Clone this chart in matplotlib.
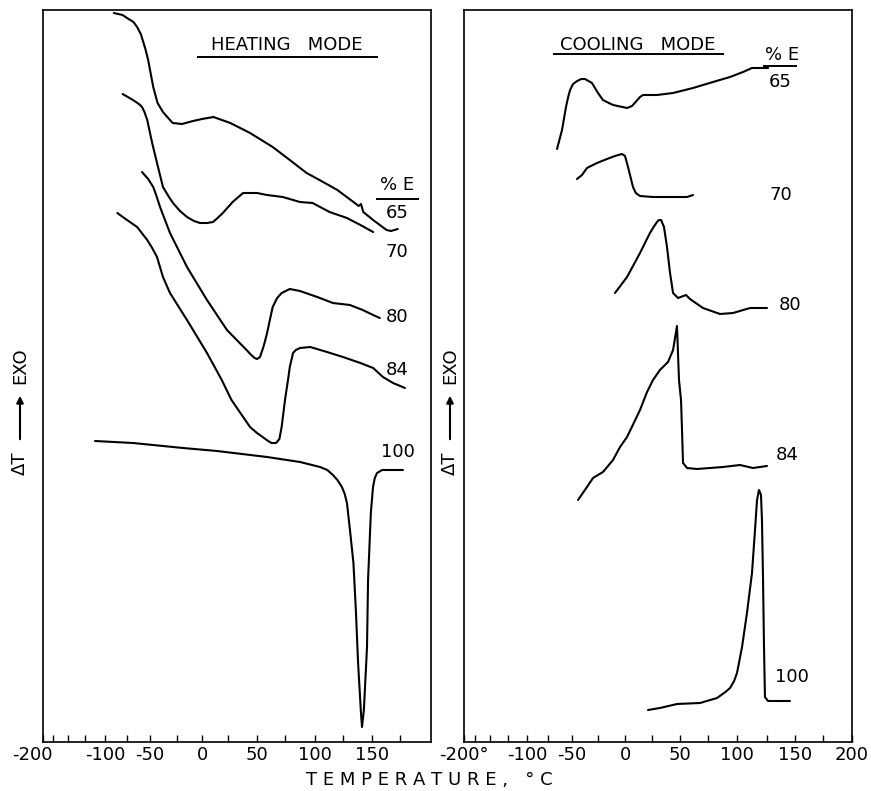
import numpy as np
import matplotlib
matplotlib.use("Agg")
import matplotlib.pyplot as plt
from matplotlib.transforms import ScaledTranslation

# ---- hand-drawn temperature scales: knot temperatures and where they sit on each frame
KNOT_T = [-200, -175, -150, -125, -100, -75, -50, -25, 0, 25, 50, 75, 100, 125, 150, 175, 200]
KNOT_LEFT = [43, 53, 68, 85, 105, 127, 150, 177, 202, 228, 257, 285, 315, 343, 372, 400, 431]
KNOT_RIGHT = [464, 475, 490, 508, 527, 548, 572, 598, 625, 652, 680, 708, 737, 767, 795, 823, 852]

# ---- HEATING MODE curves (temperature, deltaT arbitrary units)
heat_65_T = [-90, -80, -75, -68, -64, -60, -58, -55, -52, -47, -43, -38, -34, -29, -20, -9, 0, 11, 27, 44, 64, 79, 93, 104, 120, 134, 138.5, 140.5, 142.5, 151, 163, 167, 173]
heat_65_y = [729, 727, 724, 720, 715, 708, 702, 693, 682, 655, 639, 630, 625, 619, 618, 621, 623, 625, 619, 609, 595, 582, 569, 562, 552, 540, 536, 538, 530, 522, 512, 511, 513]

heat_70_T = [-80, -68.5, -62, -58.7, -56, -53, -48, -43.5, -38, -33, -28.7, -22, -15, -8, -2, 5, 10.6, 15, 20, 29, 38, 50, 59, 73, 87.5, 98, 113, 128.4, 140, 151]
heat_70_y = [648, 642, 638, 635, 630, 622, 599, 579, 555, 546, 539, 531, 525, 521, 519, 519, 520, 524, 529, 540, 549, 549, 547, 545, 540, 539, 530, 524, 517, 510]

heat_80_T = [-58.7, -52, -47, -44, -40.7, -31.5, -15, 4.8, 24, 41, 45, 48, 50, 52.7, 56, 59, 64, 68, 72, 79, 87.5, 102, 116, 131, 142, 151, 157]
heat_80_y = [570, 563, 555, 546, 535, 509, 475, 442, 412, 392, 387, 384, 383, 385, 396, 409, 435, 444, 449, 453, 451, 445, 439, 437, 432, 427, 424]

heat_84_T = [-86, -75, -64, -53, -48, -43.5, -38, -31.5, -15, 4.8, 19, 28, 44, 50, 55, 60, 63, 67, 70, 72, 75, 77.5, 79, 81.7, 84, 87.5, 96, 110.7, 125, 140, 151, 159.8, 168.8, 179]
heat_84_y = [529, 522, 515, 502, 494, 485, 465, 449, 422, 389, 362, 342, 315, 309, 305, 301, 299, 299, 303, 315, 342, 362, 375, 389, 392, 394, 395, 390, 385, 379, 374, 365, 359, 354]

heat_100_T = [-112.5, -68.5, -19, 14.4, 59, 87.5, 104.5, 111, 116, 120, 124, 126.5, 128.4, 131, 134, 136.2, 138, 140.5, 141.4, 143, 145.7, 146.6, 149, 150.9, 152.5, 154.5, 159, 177.4]
heat_100_y = [301, 299, 294, 291, 285, 280, 275, 272, 267, 262, 255, 248, 239, 212, 179, 129, 79, 29, 15, 32, 95, 162, 229, 255, 264, 269, 272, 272]

# ---- COOLING MODE curves
cool_65_T = [-65.6, -60.4, -56.25, -54, -52, -49, -45, -41, -37.5, -30.8, -25, -20.4, -15, -11, 1.9, 6.5, 13.9, 16.7, 29.5, 43.8, 61.6, 79.3, 94, 105, 112.5, 119, 126]
cool_65_y = [593, 612, 635, 645, 652, 658, 661, 663, 663, 659, 649, 642, 639, 637, 634, 636, 645, 647, 647, 649, 654, 660, 665, 670, 674, 674, 674]

cool_70_T = [-45.2, -40.4, -35.6, -26, -16.7, -9.3, -2.8, 0, 2.8, 7.4, 10, 13.9, 25.9, 43.8, 56.3, 61.6]
cool_70_y = [563, 567, 574, 579, 583, 586, 588, 586, 575, 555, 549, 546, 545, 545, 545, 547]

cool_80_T = [-9.3, 1.9, 13.9, 23.1, 27, 29.5, 31, 33.1, 35.7, 38.4, 41.1, 43.8, 48.2, 55.4, 58.9, 70.5, 85.3, 96.6, 110.8, 125]
cool_80_y = [449, 465, 489, 509, 516, 520, 522, 522, 515, 495, 469, 449, 444, 447, 443, 434, 428, 429, 434, 434]

cool_84_T = [-44.2, -35.6, -29.8, -20.4, -11.1, -4.6, 1.9, 13.9, 20.4, 25.9, 32.1, 39.3, 43.8, 47.3, 49.1, 50.9, 51.8, 52.7, 56.3, 65.2, 87.9, 102.5, 113.3, 125]
cool_84_y = [242, 255, 264, 270, 282, 295, 305, 332, 350, 362, 372, 380, 392, 416, 362, 342, 312, 279, 274, 273, 275, 277, 274, 276]

cool_100_T = [21.3, 32.1, 47.3, 67.9, 82.8, 90, 94, 97.5, 100, 104.2, 108.3, 112.5, 115, 116.7, 118.3, 120, 120.8, 121.7, 122.5, 123.3, 125.9, 145.5]
cool_100_y = [32, 34, 38, 39, 44, 50, 54, 61, 69, 95, 129, 169, 212, 242, 252, 247, 222, 162, 95, 45, 41, 41]

# ---- labels
heat_series = [("65", heat_65_T, heat_65_y), ("70", heat_70_T, heat_70_y), ("80", heat_80_T, heat_80_y),
               ("84", heat_84_T, heat_84_y), ("100", heat_100_T, heat_100_y)]
cool_series = [("65", cool_65_T, cool_65_y), ("70", cool_70_T, cool_70_y), ("80", cool_80_T, cool_80_y),
               ("84", cool_84_T, cool_84_y), ("100", cool_100_T, cool_100_y)]
heat_label_pos = {"65": (172.3, 529), "70": (172.3, 490), "80": (172.3, 425), "84": (172.3, 372), "100": (173, 290)}
cool_label_pos = {"65": (136.6, 660), "70": (137.5, 547), "80": (145.5, 437), "84": (142.8, 287), "100": (147.3, 65)}

left_tick_vals = [-200, -100, -50, 0, 50, 100, 150]
left_tick_labels = ["-200", "-100", "-50", "0", "50", "100", "150"]
right_tick_vals = [-200, -100, -50, 0, 50, 100, 150, 200]
right_tick_labels = ["-200°", "-100", "-50", "0", "50", "100", "150", "200"]
minor_ticks = [-175, -150, -125, -100, -75, -50, -25, 0, 25, 50, 75, 100, 125, 150, 175]


def make_scale(knots_px):
    kt = np.asarray(KNOT_T, float)
    kp = np.asarray(knots_px, float)

    def fwd(t):
        return np.interp(t, kt, kp)

    def inv(p):
        return np.interp(p, kp, kt)
    return fwd, inv


fig = plt.figure(figsize=(8.71, 7.91), dpi=100)
W, H = 871, 791
axL = fig.add_axes([43 / W, 1 - 742 / H, 388 / W, 732 / H])
axR = fig.add_axes([464 / W, 1 - 742 / H, 388 / W, 732 / H])

for ax, knots, series, lpos, tv, tl in [
        (axL, KNOT_LEFT, heat_series, heat_label_pos, left_tick_vals, left_tick_labels),
        (axR, KNOT_RIGHT, cool_series, cool_label_pos, right_tick_vals, right_tick_labels)]:
    ax.set_xscale('function', functions=make_scale(knots))
    for name, T, y in series:
        ax.plot(T, y, color='black', lw=1.5, solid_joinstyle='round', solid_capstyle='round')
        ax.text(lpos[name][0], lpos[name][1], name, fontsize=13, ha='center', va='center')
    ax.set_xlim(-200, 200)
    ax.set_ylim(0, 732)
    ax.set_xticks(tv)
    ax.set_xticklabels(tl)
    ax.set_xticks(minor_ticks, minor=True)
    ax.set_yticks([])
    ax.tick_params(axis='x', which='both', direction='in', length=5, width=1.0,
                   labelsize=13, pad=3, top=False)
    for s in ax.spines.values():
        s.set_linewidth(1.2)
        s.set_color('black')

# shift the left "-200" label to sit left of the frame corner as in the drawing
lab = axL.get_xticklabels()[0]
lab.set_transform(lab.get_transform() + ScaledTranslation(-11 / 100, 0, fig.dpi_scale_trans))

# titles with underlines
axL.text(76.7, 697, "HEATING   MODE", fontsize=13, ha='center', va='center')
axL.hlines(685, -5, 155.4, color='black', lw=1.4)
axR.text(12, 697, "COOLING   MODE", fontsize=13, ha='center', va='center')
axR.hlines(688, -69.8, 88.8, color='black', lw=1.4)

# %E headers
axL.text(172.3, 557, "% E", fontsize=13, ha='center', va='center')
axL.hlines(543, 153.6, 190.3, color='black', lw=1.4)
axR.text(138.4, 687, "% E", fontsize=13, ha='center', va='center')
axR.hlines(676, 121.7, 151.8, color='black', lw=1.4)

# axis labels
fig.text(429 / W, 1 - 780 / H, "T E M P E R A T U R E ,   ° C", fontsize=13, ha='center', va='center')
for xpx in (20, 450):
    fig.text(xpx / W, 1 - 463 / H, "ΔT", fontsize=13, rotation=90, ha='center', va='center')
    fig.text(xpx / W, 1 - 366 / H, "EXO", fontsize=13, rotation=90, ha='center', va='center')
    fig.patches.append(matplotlib.patches.FancyArrowPatch(
        (xpx / W, 1 - 442 / H), (xpx / W, 1 - 393 / H), transform=fig.transFigure,
        arrowstyle='-|>', mutation_scale=10, lw=1.5, color='black'))

fig.savefig("out.png", dpi=100)
